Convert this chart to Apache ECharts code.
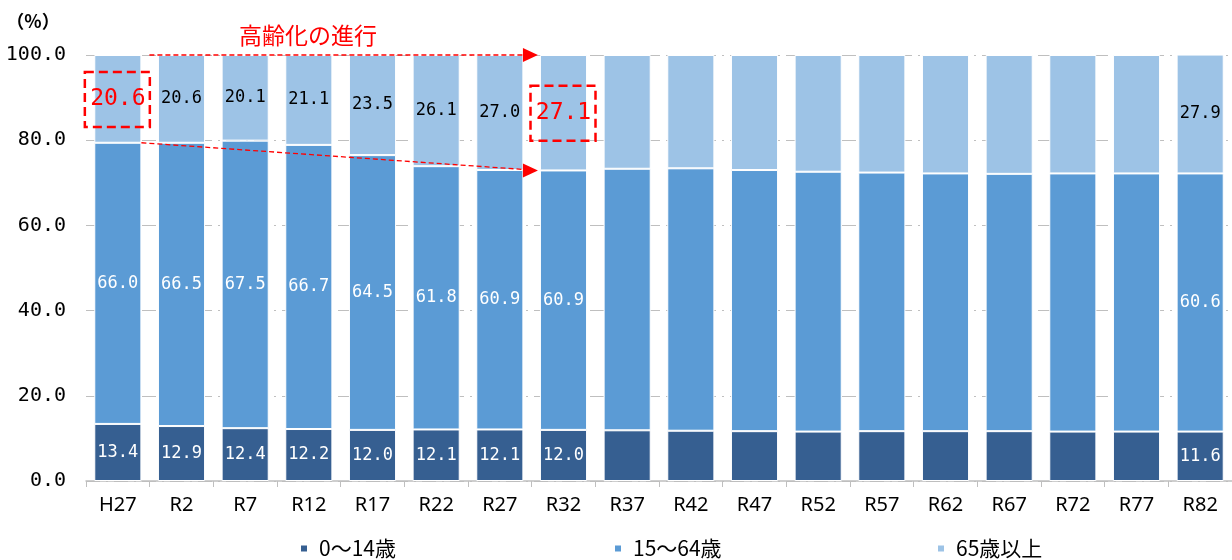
<!DOCTYPE html>
<html><head><meta charset="utf-8">
<script src="https://cdn.jsdelivr.net/npm/echarts@6/dist/echarts.min.js"></script>
<style>html,body{margin:0;padding:0;background:#fff}#c{width:1232px;height:560px}</style>
</head><body><div id="c"></div>
<script>
const categories = ['H27','R2','R7','R12','R17','R22','R27','R32','R37','R42','R47','R52','R57','R62','R67','R72','R77','R82'];
const age0_14  = [13.4,12.9,12.4,12.2,12.0,12.1,12.1,12.0,11.9,11.8,11.7,11.6,11.7,11.7,11.7,11.6,11.6,11.6];
const age15_64 = [66.0,66.5,67.5,66.7,64.5,61.8,60.9,60.9,61.4,61.6,61.3,61.0,60.7,60.5,60.4,60.6,60.6,60.6];
const age65up  = [20.6,20.6,20.1,21.1,23.5,26.1,27.0,27.1,26.7,26.6,27.0,27.4,27.6,27.8,27.9,27.8,27.8,27.9];
const labelled = [0,1,2,3,4,5,6,7,17];
const highlighted = [0,7];
const seriesNames = ['0〜14歳','15〜64歳','65歳以上'];
const yTicks = [0,20,40,60,80,100];

const FONT = '"Noto Sans CJK JP", sans-serif';
const MONO = '"DejaVu Sans Mono", "Liberation Mono", monospace';
const SANS = '"Noto Sans", sans-serif';
const colors = ['#365F91','#5B9BD5','#9DC3E6'];

function mk(vals, idx) {
  return vals.map((v, i) => {
    const item = { value: v, label: { show: labelled.includes(i) } };
    if (idx === 2 && highlighted.includes(i)) {
      item.label.color = '#FF0000';
      item.label.fontSize = 23;
    }
    return item;
  });
}

const chart = echarts.init(document.getElementById('c'));
const series = [age0_14, age15_64, age65up].map((vals, k) => ({
  name: seriesNames[k],
  type: 'bar',
  stack: 'total',
  barCategoryGap: '26%',
  data: mk(vals, k),
  itemStyle: { color: colors[k], borderColor: '#ffffff', borderWidth: 1 },
  label: {
    show: false, position: 'inside',
    color: k === 2 ? '#000000' : '#ffffff',
    fontFamily: MONO, fontSize: 17,
    formatter: p => Number(p.value).toFixed(1)
  },
  emphasis: { disabled: true }
}));

const legendBase = {
  top: 533, icon: 'rect', itemWidth: 8, itemHeight: 8, itemGap: 10,
  textStyle: { fontFamily: FONT, fontSize: 21, color: '#000', padding: [0, 0, 0, 6] }, selectedMode: false
};

chart.setOption({
  animation: false,
  grid: { left: 86, right: -6, top: 55, bottom: 79 },
  legend: [
    Object.assign({}, legendBase, { left: 294, data: [seriesNames[0]] }),
    Object.assign({}, legendBase, { left: 608, data: [seriesNames[1]] }),
    Object.assign({}, legendBase, { left: 931, data: [seriesNames[2]] })
  ],
  xAxis: {
    type: 'category', data: categories,
    axisLine: { lineStyle: { color: '#BFBFBF', width: 1.5 } },
    axisTick: { show: true, length: 6, lineStyle: { color: '#BFBFBF' } },
    axisLabel: { color: '#000', fontFamily: SANS, fontSize: 20, margin: 14 }
  },
  yAxis: {
    type: 'value', min: 0, max: 100, interval: 20,
    axisLine: { show: false }, axisTick: { show: false },
    axisLabel: { color: '#000', fontFamily: MONO, fontSize: 20, margin: 20,
      formatter: v => Number(v).toFixed(1) },
    splitLine: { lineStyle: { color: '#BFBFBF', type: [14, 6, 2, 6], width: 1.2 } }
  },
  series: series
});

// annotations positioned via the chart's own scales
const px = (cat, v) => chart.convertToPixel({ gridIndex: 0 }, [cat, v]);
const catW = px(categories[1], 0)[0] - px(categories[0], 0)[0];
const barHalf = catW * 0.74 / 2;
const red = '#FF0000';
const g = [];
function box(i) {
  const base = age0_14[i] + age15_64[i];
  const c = px(categories[i], base + age65up[i] / 2);
  g.push({ type: 'rect', shape: { x: c[0] - 33, y: c[1] - 27, width: 65, height: 55 },
    style: { fill: 'none', stroke: red, lineWidth: 2.5, lineDash: [9, 5] }, z: 100 });
}
box(0); box(7);
const p0top = px(categories[0], 100);
const p7top = px(categories[7], 100);
const tipX = p7top[0] - barHalf - 2;
const startTopX = p0top[0] + barHalf + 8;
g.push({ type: 'line', shape: { x1: startTopX, y1: p0top[1], x2: tipX - 10, y2: p0top[1] },
  style: { stroke: red, lineWidth: 1.3, lineDash: [5, 3] }, z: 100 });
g.push({ type: 'polygon', shape: { points: [[tipX - 15, p0top[1] - 7], [tipX, p0top[1]], [tipX - 15, p0top[1] + 7]] },
  style: { fill: red }, z: 100 });
const b0 = px(categories[0], age0_14[0] + age15_64[0]);
const b7 = px(categories[7], age0_14[7] + age15_64[7]);
const startLowX = b0[0] + barHalf;
const slope = (b7[1] - b0[1]) / (tipX - startLowX);
g.push({ type: 'line', shape: { x1: startLowX, y1: b0[1], x2: tipX - 10, y2: b7[1] - 10 * slope },
  style: { stroke: red, lineWidth: 1.3, lineDash: [5, 3] }, z: 100 });
g.push({ type: 'polygon', shape: { points: [[tipX - 15, b7[1] - 7], [tipX, b7[1]], [tipX - 15, b7[1] + 7]] },
  style: { fill: red }, z: 100 });
g.push({ type: 'text', x: 308, y: 35,
  style: { text: '高齢化の進行', fill: red, font: '23px ' + FONT, align: 'center', verticalAlign: 'middle' }, z: 100 });
g.push({ type: 'text', x: 33, y: 21,
  style: { text: '（%）', fill: '#000', font: 'bold 18px ' + FONT, align: 'center', verticalAlign: 'middle' }, z: 100 });
chart.setOption({ graphic: g });
</script>
</body></html>
